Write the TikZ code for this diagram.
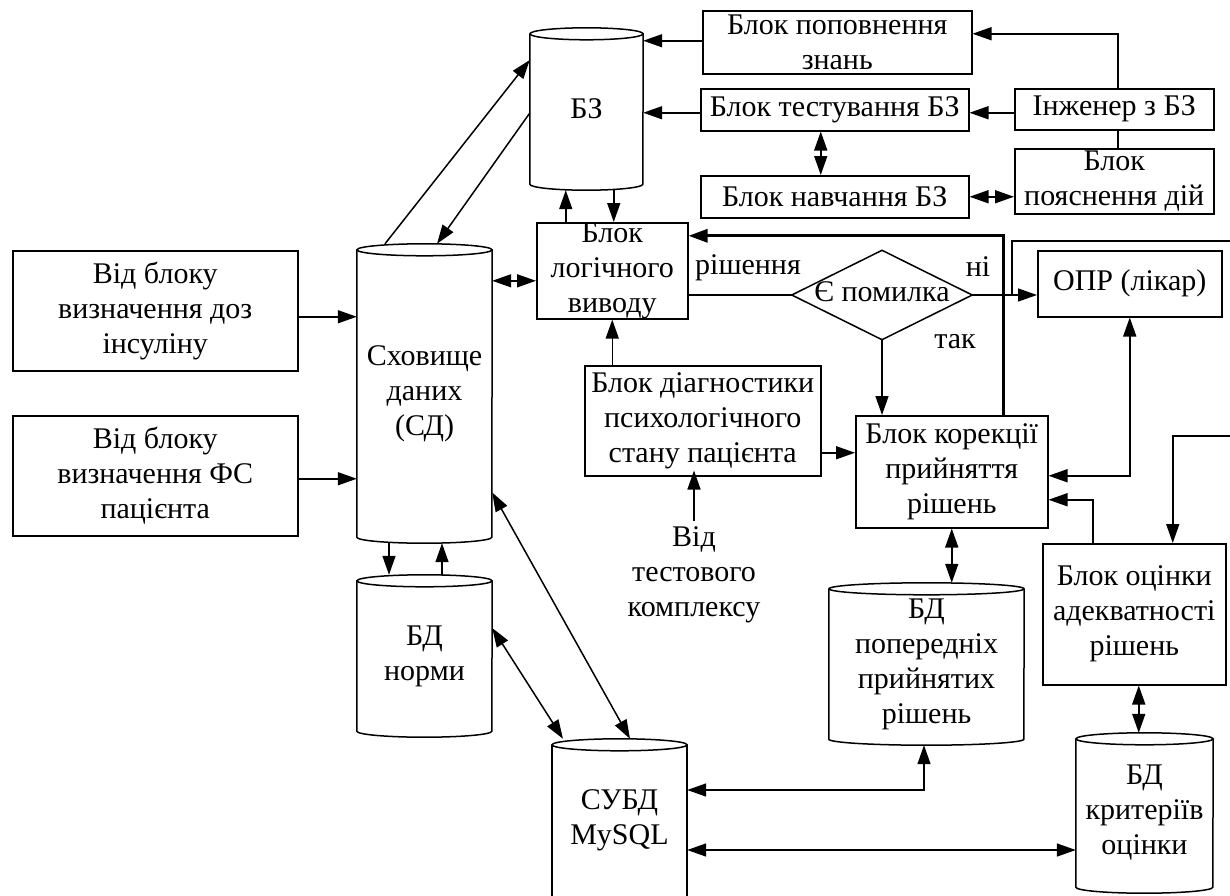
\documentclass[tikz,border=0pt]{standalone}
\usepackage{fontspec}
\setmainfont{Liberation Serif}
\usetikzlibrary{arrows.meta,calc}
\tikzset{
  ln/.style={line width=1.5bp},
  arr/.style={ln,-{Triangle[length=19bp,width=13bp]}},
  darr/.style={ln,{Triangle[length=19bp,width=13bp]}-{Triangle[length=19bp,width=13bp]}},
  blk/.style={draw,ln,rectangle,inner sep=0pt,align=center,anchor=north west},
  cylbox/.style={rectangle,draw=none,inner sep=0pt,align=center},
  txt/.style={inner sep=0pt,align=center},
  thickarr/.style={line width=3bp,-{Triangle[length=19bp,width=13bp]}}
}
\newcommand\cylnode[6]{%
  \node[cylbox,minimum width=#4bp,minimum height=#5bp] (#1) at (#2,#3) {#6};
  \draw[ln] ([yshift=-6bp]#1.north west) -- ([yshift=6bp]#1.south west)
     arc[start angle=180,end angle=360,x radius={0.5*#4bp},y radius=6bp]
     -- ([yshift=-6bp]#1.north east);
  \draw[ln] ([yshift=-6bp]#1.north) ellipse[x radius={0.5*#4bp},y radius=6bp];
}
\begin{document}
\begin{tikzpicture}[x=1bp,y=-1bp,font=\fontsize{30bp}{35bp}\selectfont]
\fill[white] (0,0) rectangle (1230,896);
\useasboundingbox (0,0) rectangle (1230,896);

% rectangular blocks
\node[blk,minimum width=285bp,minimum height=120bp] (src1) at (12,250) {Від блоку\\визначення доз\\інсуліну};
\node[blk,minimum width=285bp,minimum height=120bp] (src2) at (12,415) {Від блоку\\визначення ФС\\пацієнта};
\node[blk,minimum width=269bp,minimum height=63bp] (pop) at (702,10) {Блок поповнення\\знань};
\node[blk,minimum width=268bp,minimum height=42bp] (test) at (700,88) {Блок тестування БЗ};
\node[blk,minimum width=268bp,minimum height=42bp] (nav) at (700,175) {Блок навчання БЗ};
\node[blk,minimum width=199bp,minimum height=41bp] (eng) at (1014,88) {Інженер з БЗ};
\node[blk,minimum width=199bp,minimum height=65bp] (poy) at (1014,148) {Блок\\пояснення дій};
\node[blk,minimum width=151bp,minimum height=96bp] (logic) at (536,222) {Блок\\логічного\\виводу};
\node[blk,minimum width=184bp,minimum height=66bp] (opr) at (1037,250) {ОПР (лікар)};
\node[blk,minimum width=236bp,minimum height=110bp] (diag) at (584,365) {Блок діагностики\\психологічного\\стану пацієнта};
\node[blk,minimum width=192bp,minimum height=112bp] (kor) at (855,415) {Блок корекції\\прийняття\\рішень};
\node[blk,minimum width=183bp,minimum height=141bp] (ots) at (1042,543) {Блок оцінки\\адекватності\\рішень};

% decision
\node[cylbox,minimum width=180bp,minimum height=89bp] (err) at (882,295) {};
\draw[ln] (err.west) -- (err.north) -- (err.east) -- (err.south) -- cycle;
\node[txt] (errt) at (882,292) {Є помилка};

% cylinders
\cylnode{bz}{586.5}{109}{113}{162}{БЗ}
\cylnode{sd}{424.5}{393.5}{135}{299}{Сховище\\даних\\(СД)}
\cylnode{norm}{424.5}{656}{135}{162}{БД\\норми}
\cylnode{prev}{926.5}{664}{195}{162}{БД\\попередніх\\прийнятих\\рішень}
\cylnode{krit}{1144.5}{813}{137}{160}{БД\\критеріїв\\оцінки}
\node[cylbox,minimum width=135bp,minimum height=182bp] (subd) at (619.5,830) {};
\node[txt] (subdt) at (619.5,820) {СУБД\\MySQL};
\draw[ln] ([yshift=-6bp]subd.north west) -- (subd.south west);
\draw[ln] ([yshift=-6bp]subd.north east) -- (subd.south east);
\draw[ln] ([yshift=-6bp]subd.north) ellipse[x radius=67.5bp,y radius=6bp];

% labels
\node[txt] (lres) at (748,268) {рішення};
\node[txt] (lno) at (978,267) {ні};
\node[txt] (lyes) at (955,342) {так};
\node[txt] (vidt) at (694,575) {Від\\тестового\\комплексу};

% free ends
\coordinate (br) at ([xshift=40bp]err.east);
\coordinate (e1) at (1230,241);
\coordinate (e2) at (1230,436);

% connectors
\draw[arr] ([yshift=-6bp]src1.east) -- ([yshift=-6bp]src1.east -| sd.west);
\draw[arr] ([yshift=-3bp]src2.east) -- ([yshift=-3bp]src2.east -| sd.west);
\draw[arr] ([xshift=-39.5bp]sd.north) -- ([yshift=49bp]bz.west);
\draw[arr] ([yshift=-4bp]bz.west) -- ([xshift=12.5bp]sd.north);
\draw[darr] ([yshift=-10bp]logic.west) -- ([yshift=-10bp]logic.west -| sd.east);
\draw[arr] ([xshift=-46.5bp]logic.north) -- ([xshift=-46.5bp]logic.north |- bz.south);
\draw[arr] ([xshift=1.5bp]logic.north |- bz.south) -- ([xshift=1.5bp]logic.north);
\draw[arr] ([yshift=1.5bp]pop.west) -- ([yshift=1.5bp]pop.west -| bz.east);
\draw[arr] ([yshift=-3bp]test.west) -- ([yshift=-3bp]test.west -| bz.east);
\draw[arr] ([yshift=-3.5bp]eng.west) -- ([yshift=-3.5bp]eng.west -| test.east);
\draw[arr] ([xshift=3.5bp]eng.north) |- ([yshift=8.5bp]pop.east);
\draw[ln] ([xshift=3.5bp]eng.south) -- ([xshift=3.5bp]eng.south |- poy.north);
\draw[darr] ([xshift=-14bp]test.south) -- ([xshift=-14bp]test.south |- nav.north);
\draw[darr] (nav.east) -- (nav.east -| poy.west);

\draw[ln] (logic.east |- err.west) -- (err.west);
\draw[arr] (err.east) -- (err.east -| opr.west);
\draw[ln] (br) |- (e1);
\draw[arr] (err.south) -- (err.south |- kor.north);
\draw[thickarr] ([xshift=52bp]kor.north) |- ([yshift=35bp]logic.east);

\draw[darr] ([yshift=-4bp]kor.east) -| (opr.south);
\draw[arr] (e2) -| ([xshift=38.5bp]ots.north);
\draw[arr] ([xshift=-41.5bp]ots.north) |- ([yshift=-28bp]kor.east);
\draw[darr] ([xshift=4.5bp]ots.south) -- ([xshift=4.5bp]ots.south |- krit.north);
\draw[darr] (kor.south) -- (kor.south |- prev.north);
\draw[arr] ([yshift=-32bp]diag.east) -- ([yshift=-32bp]diag.east -| kor.west);
\draw[arr] (logic.south |- diag.north) -- (logic.south);
\draw[arr] ([yshift=6bp]vidt.north) -- ([yshift=6bp]vidt.north |- diag.south);

\draw[darr] ([yshift=-99bp]sd.east) -- ([xshift=10.5bp]subd.north);
\draw[darr] ([yshift=28bp]norm.east) -- ([xshift=-56.5bp]subd.north);
\draw[arr] ([xshift=-35.5bp]sd.south) -- ([xshift=-35.5bp]sd.south |- norm.north);
\draw[arr] ([xshift=17.5bp]norm.north) -- ([xshift=17.5bp]norm.north |- sd.south);
\draw[darr] ([yshift=40bp]subd.east) -| ([xshift=-2.5bp]prev.south);
\draw[darr] ([yshift=-20bp]subd.east) -- ([yshift=-20bp]subd.east -| krit.west);
\end{tikzpicture}
\end{document}
